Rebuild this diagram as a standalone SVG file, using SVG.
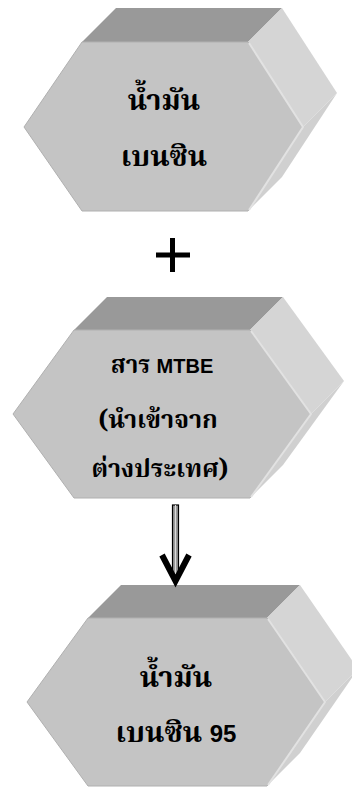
<svg xmlns="http://www.w3.org/2000/svg" width="352" height="788" viewBox="0 0 352 788">
<style>
.top{fill:#999999}
.front{fill:#c4c4c4;stroke:#b0b0b0;stroke-width:1}
.side{fill:#d5d5d5}
.low{fill:#d0d0d0}
.hl{fill:none;stroke:#e2e2e2;stroke-width:2}
.t{font-family:"Noto Serif Thai","Noto Sans Thai","Liberation Sans",sans-serif;font-weight:bold;fill:#000;text-anchor:middle}
</style>
<rect width="352" height="788" fill="#ffffff"/>
<g id="node1">
<polygon class="top" points="82,42 116,8 282,8 248,42"/>
<polygon class="side" points="248,42 282,8 337,93 303,127"/>
<polygon class="low" points="303,127 337,93 282,177 248,211"/>
<polygon class="front" points="82,42 248,42 303,127 248,211 82,211 24,127"/>
<polyline class="hl" points="249,43 303,127 249,210"/>
<text class="t" x="164" y="110" font-size="29">น้ำมัน</text>
<text class="t" x="164" y="166" font-size="29">เบนซิน</text>
</g>
<g id="plus">
<rect x="156" y="252.5" width="34" height="5" fill="#000"/>
<rect x="170" y="238" width="5" height="34" fill="#000"/>
</g>
<g id="node2">
<polygon class="top" points="74,330 107,297 283,297 250,330"/>
<polygon class="side" points="250,330 283,297 344,381 311,414"/>
<polygon class="low" points="311,414 344,381 283,465 250,498"/>
<polygon class="front" points="74,330 250,330 311,414 250,498 74,498 13,414"/>
<polyline class="hl" points="251,331 311,414 251,497"/>
<text class="t" x="162" y="373" font-size="24">สาร <tspan font-family="Liberation Sans" font-size="20">MTBE</tspan></text>
<text class="t" x="158" y="428" font-size="25">(นำเข้าจาก</text>
<text class="t" x="160" y="477" font-size="25">ต่างประเทศ)</text>
</g>
<g id="node3">
<polygon class="top" points="88,618 121,585 300,585 267,618"/>
<polygon class="side" points="267,618 300,585 358,669 325,702"/>
<polygon class="low" points="325,702 358,669 300,753 267,786"/>
<polygon class="front" points="88,618 267,618 325,702 267,786 88,786 27,702"/>
<polyline class="hl" points="268,619 325,702 268,785"/>
<text class="t" x="176" y="687" font-size="29">น้ำมัน</text>
<text class="t" x="176" y="742" font-size="29">เบนซิน <tspan font-family="Liberation Sans" font-size="24">95</tspan></text>
</g>
<g id="connectors">
<rect x="172.5" y="505" width="6" height="72" fill="#9a9a9a" stroke="#000" stroke-width="1.2"/>
<line x1="175.5" y1="505" x2="175.5" y2="577" stroke="#dddddd" stroke-width="1"/>
<polyline points="162,555 175.5,581 189,555" fill="none" stroke="#000" stroke-width="6" stroke-linejoin="miter"/>
</g>
</svg>
